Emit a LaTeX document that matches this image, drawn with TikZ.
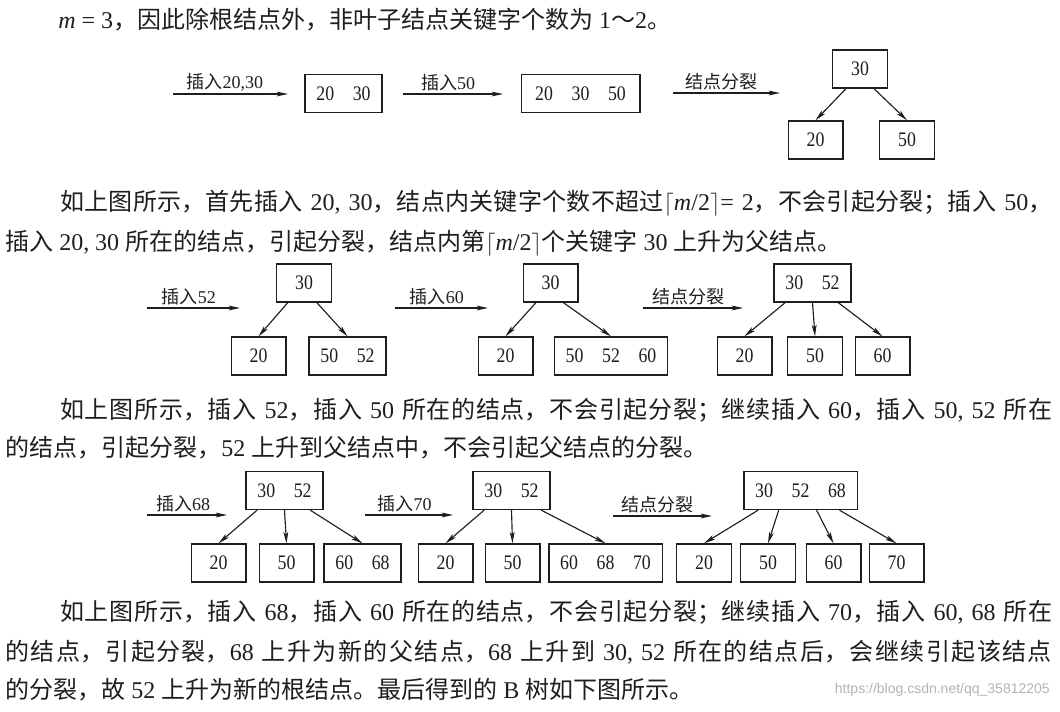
\documentclass[tikz,border=0pt]{standalone}
\usepackage{fontspec}
\setmainfont{Liberation Serif}
\newfontfamily\cjkfont{Noto Sans CJK SC}
\newfontfamily\keyfont[FakeStretch=0.86]{Liberation Serif}
\newfontfamily\wmfont{Liberation Sans}
\usetikzlibrary{arrows.meta,calc}
\XeTeXlinebreaklocale "zh"
\XeTeXlinebreakskip=0pt plus 4pt
\tolerance=10000
\definecolor{cInk}{HTML}{1E1E1E}
\definecolor{cMark}{HTML}{B4B4B4}
\newcommand{\zh}[1]{{\cjkfont #1}}
\newcommand{\gap}{\hspace{14pt}}
\newcommand{\bodysize}{\fontsize{18}{22}\selectfont}
\newcommand{\figsize}{\fontsize{13.5}{16}\selectfont}

\begin{document}
\begin{tikzpicture}[x=0.75pt,y=-0.75pt,
    keybox/.style={draw=cInk,line width=1pt,minimum width=41pt,minimum height=28.5pt,
                   inner xsep=8.5pt,inner ysep=0pt,font=\keyfont\fontsize{15.5}{17}\selectfont,text=cInk},
    flow/.style={draw=cInk,line width=0.85pt,-{Stealth[length=8.5pt,width=3.6pt,inset=2pt]}},
    steplbl/.style={above=0.5pt,pos=.45,inner sep=1pt,font=\figsize,text=cInk},
    textline/.style={anchor=west,inner sep=0pt,font=\bodysize,text=cInk},
    fullline/.style={textline,text width=#1,
                     execute at begin node={\parindent=0pt\leftskip=0pt\rightskip=0pt\parfillskip=0pt\relax}}]
  \useasboundingbox[fill=white] (0,0) rectangle (1060,711);

  % opening sentence
  \node[textline] (line0) at (58,20) {\textit{m} = 3\zh{，因此除根结点外，非叶子结点关键字个数为} 1\zh{～}2\zh{。}};

  % first row: 20, 30, 50
  \node[keybox] (ins2030) at (343.5,93.5) {20\gap 30};
  \node[keybox,minimum width=89pt] (ins50) at (580.5,93.5) {20\gap 30\gap 50};
  \node[keybox] (root1) at (860,69) {30};
  \node[keybox] (leaf1a) at (815.5,140) {20};
  \node[keybox] (leaf1b) at (907,140) {50};
  \coordinate (go1) at (173,94);  \coordinate (to1) at (288,94);
  \coordinate (go2) at (403,94);  \coordinate (to2) at (503,94);
  \coordinate (go3) at (673,93);  \coordinate (to3) at (780,93);
  \draw[flow] (go1) -- node[steplbl] {\zh{插入}20,30} (to1);
  \draw[flow] (go2) -- node[steplbl] {\zh{插入}50} (to2);
  \draw[flow] (go3) -- node[steplbl] {\zh{结点分裂}} (to3);
  \draw[flow] ($(root1.south west)!.25!(root1.south east)$) -- (leaf1a.north);
  \draw[flow] ($(root1.south west)!.75!(root1.south east)$) -- (leaf1b.north);

  \node[fullline=744pt] (p1a) at (60,203) {\zh{如上图所示，首先插入} 20, 30\zh{，结点内关键字个数不超过}$\lceil$\textit{m}/2$\rceil$= 2\zh{，不会引起分裂；插入} 50\zh{，}};
  \node[textline] (p1b) at (5,243) {\zh{插入} 20, 30 \zh{所在的结点，引起分裂，结点内第}$\lceil$\textit{m}/2$\rceil$\zh{个关键字} 30 \zh{上升为父结点。}};

  % second row: 52, 60
  \node[keybox] (root2) at (304,283) {30};
  \node[keybox] (leaf2a) at (258.5,356) {20};
  \node[keybox] (leaf2b) at (347.5,356) {50\gap 52};
  \node[keybox] (root3) at (550.5,283) {30};
  \node[keybox] (leaf3a) at (505.5,356) {20};
  \node[keybox] (leaf3b) at (611,356) {50\gap 52\gap 60};
  \node[keybox] (root4) at (812.5,283) {30\gap 52};
  \node[keybox] (leaf4a) at (744.5,356) {20};
  \node[keybox] (leaf4b) at (815,356) {50};
  \node[keybox] (leaf4c) at (882.5,356) {60};
  \coordinate (go4) at (147,308);  \coordinate (to4) at (240,308);
  \coordinate (go5) at (395,308);  \coordinate (to5) at (488,308);
  \coordinate (go6) at (643,308);  \coordinate (to6) at (743,308);
  \draw[flow] (go4) -- node[steplbl] {\zh{插入}52} (to4);
  \draw[flow] (go5) -- node[steplbl] {\zh{插入}60} (to5);
  \draw[flow] (go6) -- node[steplbl] {\zh{结点分裂}} (to6);
  \draw[flow] ($(root2.south west)!.21!(root2.south east)$) -- (leaf2a.north);
  \draw[flow] ($(root2.south west)!.73!(root2.south east)$) -- (leaf2b.north);
  \draw[flow] ($(root3.south west)!.24!(root3.south east)$) -- (leaf3a.north);
  \draw[flow] ($(root3.south west)!.73!(root3.south east)$) -- (leaf3b.north);
  \draw[flow] ($(root4.south west)!.15!(root4.south east)$) -- (leaf4a.north);
  \draw[flow] (root4.south) -- (leaf4b.north);
  \draw[flow] ($(root4.south west)!.83!(root4.south east)$) -- (leaf4c.north);

  \node[fullline=744pt] (p2a) at (60,410) {\zh{如上图所示，插入} 52\zh{，插入} 50 \zh{所在的结点，不会引起分裂；继续插入} 60\zh{，插入} 50, 52 \zh{所在}};
  \node[textline] (p2b) at (5,448) {\zh{的结点，引起分裂，}52 \zh{上升到父结点中，不会引起父结点的分裂。}};

  % third row: 68, 70
  \node[keybox] (root5) at (284.5,490.5) {30\gap 52};
  \node[keybox] (leaf5a) at (218.5,563) {20};
  \node[keybox] (leaf5b) at (286.5,563) {50};
  \node[keybox] (leaf5c) at (362.5,563) {60\gap 68};
  \node[keybox] (root6) at (511.5,490.5) {30\gap 52};
  \node[keybox] (leaf6a) at (445.5,563) {20};
  \node[keybox] (leaf6b) at (512.5,563) {50};
  \node[keybox] (leaf6c) at (605.5,563) {60\gap 68\gap 70};
  \node[keybox] (root7) at (800.5,490.5) {30\gap 52\gap 68};
  \node[keybox] (leaf7a) at (704,563) {20};
  \node[keybox] (leaf7b) at (768,563) {50};
  \node[keybox] (leaf7c) at (833.5,563) {60};
  \node[keybox] (leaf7d) at (896.5,563) {70};
  \coordinate (go7) at (147,515);  \coordinate (to7) at (227,515);
  \coordinate (go8) at (365,515);  \coordinate (to8) at (453,515);
  \coordinate (go9) at (613,516);  \coordinate (to9) at (712,516);
  \draw[flow] (go7) -- node[steplbl] {\zh{插入}68} (to7);
  \draw[flow] (go8) -- node[steplbl] {\zh{插入}70} (to8);
  \draw[flow] (go9) -- node[steplbl] {\zh{结点分裂}} (to9);
  \draw[flow] ($(root5.south west)!.15!(root5.south east)$) -- (leaf5a.north);
  \draw[flow] (root5.south) -- (leaf5b.north);
  \draw[flow] ($(root5.south west)!.83!(root5.south east)$) -- (leaf5c.north);
  \draw[flow] ($(root6.south west)!.15!(root6.south east)$) -- (leaf6a.north);
  \draw[flow] (root6.south) -- (leaf6b.north);
  \draw[flow] ($(root6.south west)!.88!(root6.south east)$) -- (leaf6c.north);
  \draw[flow] ($(root7.south west)!.13!(root7.south east)$) -- (leaf7a.north);
  \draw[flow] ($(root7.south west)!.31!(root7.south east)$) -- (leaf7b.north);
  \draw[flow] ($(root7.south west)!.64!(root7.south east)$) -- (leaf7c.north);
  \draw[flow] ($(root7.south west)!.84!(root7.south east)$) -- (leaf7d.north);

  \node[fullline=744pt] (p3a) at (60,612) {\zh{如上图所示，插入} 68\zh{，插入} 60 \zh{所在的结点，不会引起分裂；继续插入} 70\zh{，插入} 60, 68 \zh{所在}};
  \node[fullline=785pt] (p3b) at (5,652) {\zh{的结点，引起分裂，}68 \zh{上升为新的父结点，}68 \zh{上升到} 30, 52 \zh{所在的结点后，会继续引起该结点}};
  \node[textline] (p3c) at (5,690) {\zh{的分裂，故} 52 \zh{上升为新的根结点。最后得到的} B \zh{树如下图所示。}};
  \node[anchor=east,inner sep=0pt,font=\wmfont\fontsize{10.5}{12}\selectfont,text=cMark] (mark) at (1050,690) {https://blog.csdn.net/qq\_35812205};
\end{tikzpicture}
\end{document}
